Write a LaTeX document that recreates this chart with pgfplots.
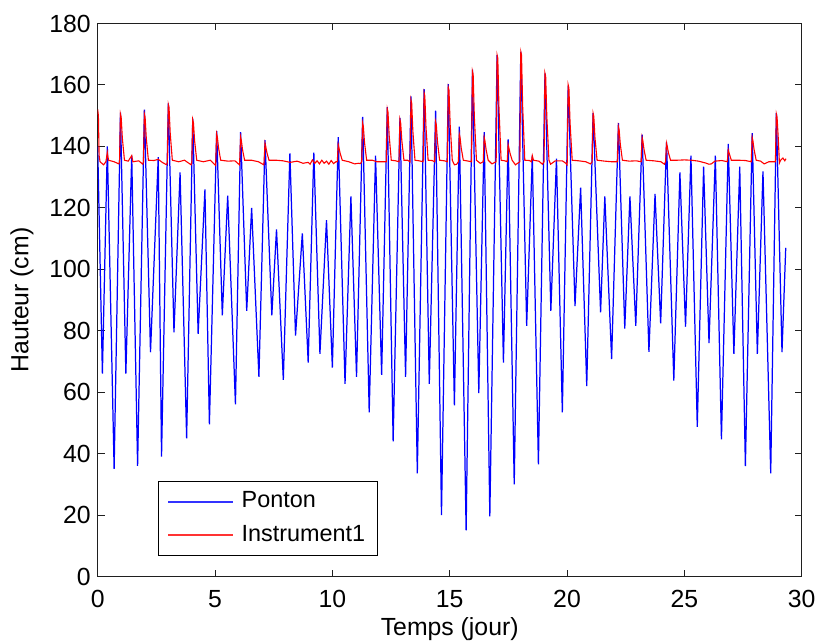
\documentclass[border=0pt]{standalone}
\usepackage{pgfplots}
\pgfplotsset{compat=1.18}
\usepackage{fontspec}
\setmainfont{Liberation Sans}
\newcommand\ff{\fontsize{12.4}{14.5}\selectfont}
\newcommand\fl{\fontsize{11.7}{13.5}\selectfont}
\definecolor{mblue}{RGB}{0,0,255}
\definecolor{mred}{RGB}{255,0,0}
\begin{document}
\begin{tikzpicture}
\begin{axis}[
  width=352pt, height=276.5pt, scale only axis,
  xmin=0, xmax=30, ymin=0, ymax=180,
  xtick={0,5,...,30}, ytick={0,20,...,180},
  xtick pos=both, ytick pos=both, xticklabel pos=lower, yticklabel pos=left,
  tick align=inside, major tick length=3.5pt,
  axis line style={line width=0.75pt, black!88},
  tick style={black!88, line width=0.5pt},
  every tick label/.append style={font=\ff},
  xticklabel style={yshift=-3.3pt},
  /pgf/number format/assume math mode=true,
  label style={font=\ff},
  xlabel={Temps (jour)}, ylabel={Hauteur (cm)},
  xlabel style={at={(axis description cs:0.5,-0.0958)}, anchor=center},
  ylabel style={at={(axis description cs:-0.1075,0.5)}, anchor=center},
  legend cell align=left,
  legend style={at={(axis description cs:0.086,0.0375)}, anchor=south west,
    font=\fl, draw=black, line width=0.6pt, inner xsep=4.2pt, inner ysep=2.5pt,
    row sep=1.65pt,
    nodes={inner sep=2pt, text height=8.5pt, text depth=2.5pt}},
  legend image code/.code={\draw[#1,line width=0.8pt,opacity=0.8] (0pt,0pt) -- (32.5pt,0pt); \path (34.5pt,0pt);},
]
\addplot[mblue, line width=0.62pt] coordinates {
(0.00,140) (0.20,66) (0.41,140) (0.70,35) (0.97,151) (1.20,66) (1.45,137) (1.70,36)
(1.99,152) (2.25,73) (2.58,136.5) (2.72,39) (3.01,154) (3.25,79.5) (3.51,131.5) (3.79,45)
(4.05,149) (4.28,79) (4.57,126) (4.76,49.5) (5.07,145) (5.31,85) (5.54,124) (5.87,56)
(6.09,144.6) (6.35,86.5) (6.56,120) (6.87,65) (7.13,142) (7.42,85) (7.62,113) (7.91,64)
(8.19,137.7) (8.43,78.4) (8.72,111.7) (8.97,69.6) (9.21,138) (9.47,72.5) (9.75,116) (10.00,68)
(10.25,143) (10.54,62.7) (10.79,123.7) (11.03,65) (11.29,149.6) (11.57,53.4) (11.84,137) (12.10,65.6)
(12.34,152.8) (12.59,44) (12.88,149.3) (13.12,65) (13.35,156.3) (13.62,33.6) (13.91,158.6) (14.13,62.7)
(14.40,151.6) (14.65,20) (14.94,160.3) (15.20,55.7) (15.41,146.4) (15.70,15) (15.97,165) (16.24,59.7)
(16.47,144.6) (16.71,19.6) (17.02,169.7) (17.29,69.6) (17.49,142.3) (17.75,30) (18.03,170.8) (18.28,81.6)
(18.52,137) (18.78,36.5) (19.06,163.8) (19.31,86.5) (19.55,136) (19.80,53.4) (20.05,159.8) (20.34,88)
(20.58,126.6) (20.84,62) (21.11,150.8) (21.43,86) (21.61,123.7) (21.90,70.8) (22.19,147.6) (22.46,80.7)
(22.68,123.7) (22.93,81.6) (23.20,143.8) (23.49,73.1) (23.75,124.5) (23.99,82.4) (24.24,141.5) (24.55,63.8)
(24.81,131.5) (25.05,81.3) (25.28,137) (25.55,48.7) (25.82,133.4) (26.05,76) (26.32,137) (26.58,44.6)
(26.87,140.8) (27.11,72.5) (27.36,133.4) (27.60,35.9) (27.89,144.3) (28.11,72.5) (28.35,131.9) (28.68,33.6)
(28.92,150.8) (29.16,73) (29.32,107)
};
\addlegendentry{Ponton}
\addplot[mred, line width=0.55pt] coordinates {
(0.00,152) (0.03,150) (0.06,137) (0.10,135) (0.25,134) (0.35,135) (0.41,138) (0.46,135.5)
(0.70,135) (0.90,134.3) (0.93,135) (0.97,150.5) (1.00,149.5) (1.05,142.7) (1.14,135.5)
(1.30,135.2) (1.45,137) (1.50,135) (1.75,135.3) (1.92,134.2) (1.95,135) (1.99,150.5) (2.02,149.5) (2.07,142.7) (2.16,135.5)
(2.40,135.4) (2.58,135.8) (2.75,134.8) (2.94,134) (2.97,135) (3.01,153.6) (3.04,152.6) (3.09,144.3) (3.18,135.5)
(3.45,135) (3.70,135.5) (3.98,134) (4.01,135) (4.05,148.7) (4.08,147.7) (4.13,141.8) (4.22,135.5)
(4.50,135) (4.80,135.5) (5.02,133.8) (5.03,135) (5.07,144) (5.10,143) (5.15,139.5) (5.24,135.5)
(5.55,135.2) (5.85,135.3) (6.04,134) (6.05,135) (6.09,143) (6.12,142) (6.17,139) (6.26,135.5)
(6.55,135.5) (6.85,135) (7.08,134) (7.09,135) (7.13,141) (7.16,140) (7.21,138) (7.30,135.5)
(7.60,135.5) (7.90,135.3) (8.20,134.8) (8.50,135.2) (8.75,134.5) (8.97,134.8) (9.05,134.2) (9.15,135.6)
(9.25,134.5) (9.35,135.3) (9.45,134.3) (9.55,135.5) (9.65,134.5) (9.75,135.2) (9.85,134.2) (9.95,135.4)
(10.05,134.4) (10.15,135) (10.21,135) (10.25,140.6) (10.28,139.6) (10.33,137.8) (10.42,135.5)
(10.70,135) (10.95,134.3) (11.10,134.5) (11.20,134.4) (11.25,135) (11.29,147.5) (11.32,146.5) (11.37,141.3) (11.46,135.5)
(11.70,135.5) (11.90,135) (12.30,135) (12.34,152.2) (12.37,151.2) (12.42,143.6) (12.51,135.5)
(12.70,135.3) (12.84,135) (12.88,148.7) (12.91,147.7) (12.96,141.9) (13.05,135.5)
(13.20,135.5) (13.31,135) (13.35,155.1) (13.38,154.1) (13.43,145) (13.52,135.5)
(13.70,135.3) (13.87,135) (13.91,157.4) (13.94,156.4) (13.99,146.2) (14.08,135.5)
(14.25,135.4) (14.36,135) (14.40,148) (14.43,147) (14.48,141.5) (14.57,135.5)
(14.78,135.3) (14.90,135) (14.94,159.2) (14.97,158.2) (15.02,147.1) (15.11,135.5)
(15.20,134) (15.30,134.2) (15.37,135) (15.41,144) (15.44,143) (15.49,139.5) (15.58,135.5)
(15.80,135.2) (15.93,135) (15.97,164.4) (16.00,163.4) (16.05,149.7) (16.14,135.5)
(16.30,134.5) (16.43,135) (16.47,142.9) (16.50,141.9) (16.55,139) (16.64,135.5)
(16.80,134.3) (16.98,135) (17.02,169.7) (17.05,168.7) (17.10,152.4) (17.19,135.5)
(17.35,135.3) (17.45,135) (17.49,140.6) (17.52,139.6) (17.57,137.8) (17.66,135.5)
(17.80,134) (17.99,135) (18.03,170.8) (18.06,169.8) (18.11,152.9) (18.20,135.5)
(18.40,135.4) (18.48,135) (18.52,137) (18.57,135.5) (18.80,135.2) (18.95,134.2)
(19.02,135) (19.06,163.8) (19.09,162.8) (19.14,149.4) (19.23,135.5)
(19.30,134.2) (19.50,135.3) (19.80,135.3) (19.95,134.5) (20.00,134) (20.01,135) (20.05,160) (20.08,159) (20.13,147.5) (20.22,135.5)
(20.50,135.3) (20.80,135) (21.00,134.3) (21.07,135) (21.11,150.8) (21.14,149.8) (21.19,142.9) (21.28,135.5)
(21.60,135.2) (21.90,135) (22.15,135) (22.19,146.4) (22.22,145.4) (22.27,140.7) (22.36,135.5)
(22.65,135.2) (22.95,135.3) (23.16,135) (23.20,142.9) (23.23,141.9) (23.28,139) (23.37,135.5)
(23.70,135.3) (24.00,135) (24.15,134.2) (24.20,135) (24.24,141) (24.27,140) (24.32,138) (24.41,135.5)
(24.70,135.5) (25.00,135.6) (25.30,135.5) (25.60,135.2) (25.90,134.6) (26.05,134.2) (26.15,134.3) (26.30,135.2)
(26.60,135.4) (26.83,135) (26.87,138.8) (26.92,137.5) (27.00,135.5)
(27.30,135.5) (27.60,135.4) (27.85,135) (27.89,142.9) (27.92,141.9) (27.97,139) (28.06,135.5)
(28.25,135.2) (28.40,134.3) (28.60,135) (28.88,135) (28.92,150.5) (28.95,149.5) (29.00,142.8) (29.05,134.6)
(29.10,135.5) (29.20,136.2) (29.28,135.3) (29.33,136)
};
\addlegendentry{Instrument1}
\end{axis}
\pgfresetboundingbox
\path (current axis.south west) ++(-48.85pt,-33.15pt) rectangle ([shift={(8.65pt,11.75pt)}]current axis.north east);
\end{tikzpicture}
\end{document}
